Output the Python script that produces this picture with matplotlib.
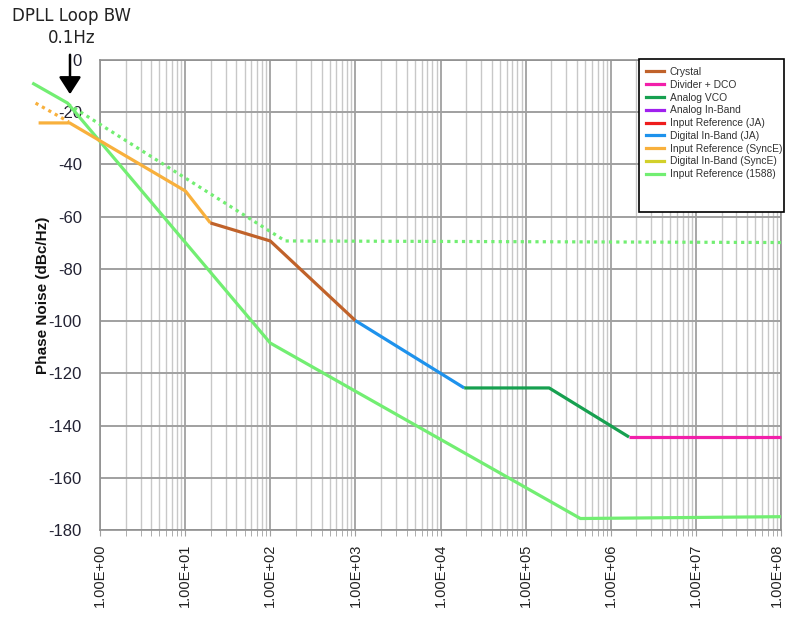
import matplotlib
matplotlib.use("Agg")
import matplotlib.pyplot as plt
from matplotlib.patches import Rectangle, FancyArrowPatch
from matplotlib.lines import Line2D
from matplotlib.ticker import FixedLocator, FixedFormatter, LogLocator, NullFormatter
import matplotlib.transforms as mtransforms

plt.rcParams["axes.unicode_minus"] = False

# ---------------- data ----------------
x_ticks = [1e0, 1e1, 1e2, 1e3, 1e4, 1e5, 1e6, 1e7, 1e8]
x_tick_labels = ["1.00E+00", "1.00E+01", "1.00E+02", "1.00E+03", "1.00E+04",
                 "1.00E+05", "1.00E+06", "1.00E+07", "1.00E+08"]
y_ticks = [0, -20, -40, -60, -80, -100, -120, -140, -160, -180]

# Input Reference (1588), solid
ref1588_x = [0.16, 0.416, 100, 4.4e5, 1e8]
ref1588_y = [-8.8, -16.5, -108.4, -175.6, -174.9]
# Input Reference (1588), dotted
ref1588_dot_x = [0.42, 150, 1e8]
ref1588_dot_y = [-16.9, -69.3, -69.9]
# Input Reference (SyncE)
synce_x = [0.19, 0.44, 10.1, 19.8]
synce_y = [-24.1, -24.1, -50.2, -62.4]
# Input Reference (SyncE), dotted
synce_dot_x = [0.175, 0.43]
synce_dot_y = [-16.5, -23.7]
# Crystal
crystal_x = [19.8, 100, 1000]
crystal_y = [-62.4, -69.3, -99.8]
# Digital In-Band (JA)
dig_ja_x = [1000, 1.9e4]
dig_ja_y = [-99.8, -125.6]
# Analog VCO
vco_x = [1.9e4, 1.89e5, 1.64e6]
vco_y = [-125.6, -125.6, -144.4]
# Divider + DCO
dco_x = [1.64e6, 1e8]
dco_y = [-144.4, -144.4]

legend_labels = ["Crystal", "Divider + DCO", "Analog VCO", "Analog In-Band",
                 "Input Reference (JA)", "Digital In-Band (JA)",
                 "Input Reference (SyncE)", "Digital In-Band (SyncE)",
                 "Input Reference (1588)"]
legend_colors = ["#C0622A", "#F21FAA", "#17A050", "#A020EE", "#EE1C1C",
                 "#1E92EC", "#F8B03C", "#D2D02A", "#72EE72"]

# --------------- figure ----------------
W, H = 786, 619
fig = plt.figure(figsize=(W / 100, H / 100), dpi=100)
fig.patch.set_facecolor("white")
ax = fig.add_axes([100 / W, 1 - 530 / H, (781 - 100) / W, (530 - 60) / H])

ax.set_xscale("log")
ax.set_xlim(1, 1e8)
ax.set_ylim(-180, 0)

# grid
ax.xaxis.set_major_locator(FixedLocator(x_ticks))
ax.xaxis.set_major_formatter(FixedFormatter(x_tick_labels))
ax.xaxis.set_minor_locator(LogLocator(base=10, subs=range(2, 10), numticks=20))
ax.xaxis.set_minor_formatter(NullFormatter())
ax.set_yticks(y_ticks)
ax.grid(True, which="major", axis="x", color="#a0a0a0", lw=1.3)
ax.grid(True, which="minor", axis="x", color="#c8c8c8", lw=1.0)
ax.grid(True, which="major", axis="y", color="#a0a0a0", lw=1.4)
ax.set_axisbelow(True)
for s in ax.spines.values():
    s.set_color("#909090")
    s.set_linewidth(1.2)

ax.tick_params(axis="y", length=0, pad=13, labelsize=12, labelcolor="#222233")
ax.tick_params(axis="x", which="both", length=4, color="#a0a0a0", pad=6,
               labelsize=10.5, labelcolor="#222222", labelrotation=90)
for lab in ax.get_yticklabels():
    lab.set_family(["Liberation Sans Narrow", "Liberation Sans", "DejaVu Sans"])
xlabs = ax.get_xticklabels()
for lab in xlabs:
    lab.set_family(["Liberation Sans", "DejaVu Sans"])
# nudge the last tick label so it stays inside the figure
xlabs[-1].set_transform(xlabs[-1].get_transform() +
                        mtransforms.ScaledTranslation(-4 / 100, 0, fig.dpi_scale_trans))

ax.set_ylabel("Phase Noise (dBc/Hz)", fontsize=11, fontweight="bold",
              family=["Liberation Sans", "DejaVu Sans"], color="#111111")
ax.yaxis.set_label_coords((50 - 100) / 681, 0.5)

lw = 2.3
kw = dict(clip_on=False, solid_capstyle="butt", solid_joinstyle="round")
ax.plot(ref1588_x, ref1588_y, color=legend_colors[8], lw=lw, zorder=3, **kw)
ax.plot(ref1588_dot_x, ref1588_dot_y, color=legend_colors[8], lw=2.3,
        linestyle=(0, (1, 1.3)), zorder=3, clip_on=False)
ax.plot(synce_x, synce_y, color=legend_colors[6], lw=lw, zorder=3, **kw)
ax.plot(synce_dot_x, synce_dot_y, color=legend_colors[6], lw=2.3,
        linestyle=(0, (1, 1.3)), zorder=3, clip_on=False)
ax.plot(crystal_x, crystal_y, color=legend_colors[0], lw=lw, zorder=3, **kw)
ax.plot(dig_ja_x, dig_ja_y, color=legend_colors[5], lw=lw, zorder=3, **kw)
ax.plot(vco_x, vco_y, color=legend_colors[2], lw=lw, zorder=3, **kw)
ax.plot(dco_x, dco_y, color=legend_colors[1], lw=lw, zorder=3, **kw)

# legend (custom box)
fig.add_artist(Rectangle((639 / W, 1 - 212 / H), (784 - 639) / W, (212 - 59) / H,
                         transform=fig.transFigure, facecolor="white",
                         edgecolor="black", lw=1.2, zorder=5))
handles = [Line2D([], [], color=c, lw=2.3) for c in legend_colors]
leg = fig.legend(handles, legend_labels, loc="upper left",
                 bbox_to_anchor=(646 / W, 1 - 67 / H), frameon=False,
                 prop={"family": ["Liberation Sans", "DejaVu Sans"], "size": 7.4},
                 labelspacing=0.27, handlelength=1.75, handletextpad=0.55,
                 borderpad=0.0, borderaxespad=0.0, labelcolor="#333333")
leg.set_zorder(6)

# annotation
fig.text(72 / W, 1 - 16 / H, "DPLL Loop BW", ha="center", va="center",
         fontsize=12, color="#222222", family="DejaVu Sans")
fig.text(72 / W, 1 - 38 / H, "0.1Hz", ha="center", va="center",
         fontsize=12, color="#222222", family="DejaVu Sans")
fig.add_artist(FancyArrowPatch(
    (70 / W, 1 - 52 / H), (70 / W, 1 - 97 / H), transform=fig.transFigure,
    arrowstyle="-|>,head_length=7,head_width=4.5", mutation_scale=1.5,
    color="black", lw=1.8, zorder=7))

fig.savefig("out.png", dpi=100, facecolor="white")
